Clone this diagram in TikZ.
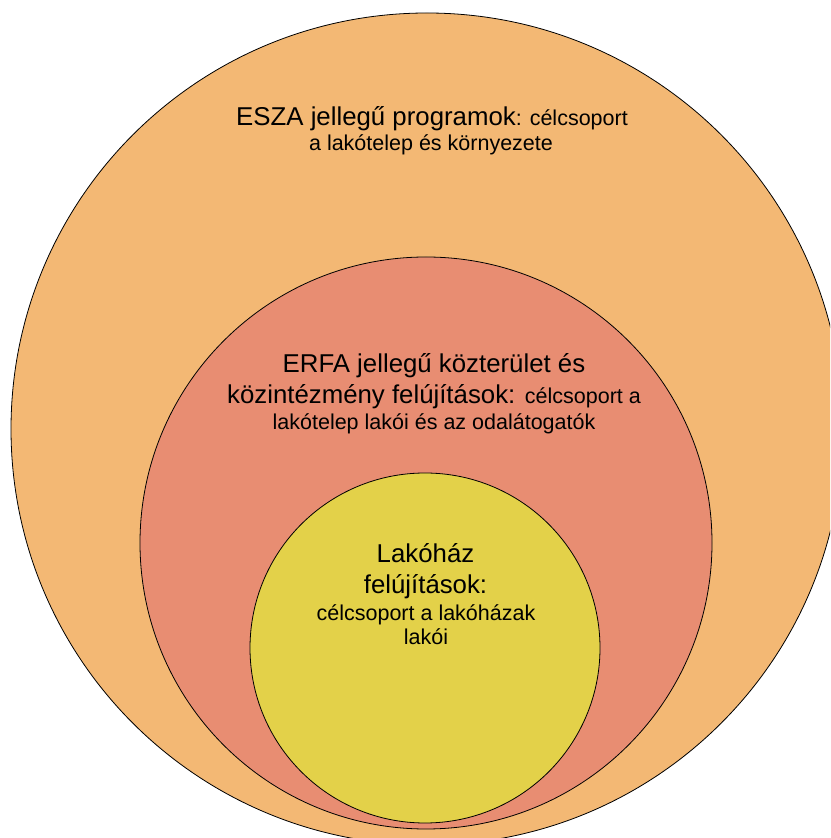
\documentclass[tikz,border=0pt]{standalone}
\usepackage{fontspec}
\setmainfont{Liberation Sans}
\definecolor{outerc}{HTML}{F3B874}
\definecolor{midc}{HTML}{E88D72}
\definecolor{innerc}{HTML}{E3D149}
\newcommand{\bigf}{\fontsize{25.8}{30}\selectfont}
\newcommand{\smallf}{\fontsize{21.5}{26}\selectfont}
\begin{document}
\begin{tikzpicture}[x=1pt,y=1pt,
  ring/.style={draw=black, line width=0.8pt},
  txt/.style={anchor=base, inner sep=0pt, text=black}]
\useasboundingbox (0,0) rectangle (830,838);
\fill[white] (0,0) rectangle (830,838);
\clip (0,0) rectangle (830,838);
\draw[ring, fill=outerc] (427,409) circle[radius=416pt];
\draw[ring, fill=midc] (426,295) circle[radius=286pt];
\draw[ring, fill=innerc] (425,190) circle[radius=175pt];
% ESZA
\node[txt] (esza1) at (432,712) {{\bigf ESZA jellegű programok}{\smallf: célcsoport}};
\node[txt] (esza2) at (431,687) {\smallf a lakótelep és környezete};
% ERFA
\node[txt] (erfa1) at (434,465.7) {\bigf ERFA jellegű közterület és};
\node[txt] (erfa2) at (434,434) {{\bigf közintézmény felújítások: }{\smallf célcsoport a}};
\node[txt] (erfa3) at (434,408) {\smallf lakótelep lakói és az odalátogatók};
% Lakohaz
\node[txt] (lak1) at (425.5,275.7) {\bigf Lakóház};
\node[txt] (lak2) at (425.5,244.7) {\bigf felújítások:};
\node[txt] (lak3) at (426,217.3) {\smallf célcsoport a lakóházak};
\node[txt] (lak4) at (426,193) {\smallf lakói};
\end{tikzpicture}
\end{document}
